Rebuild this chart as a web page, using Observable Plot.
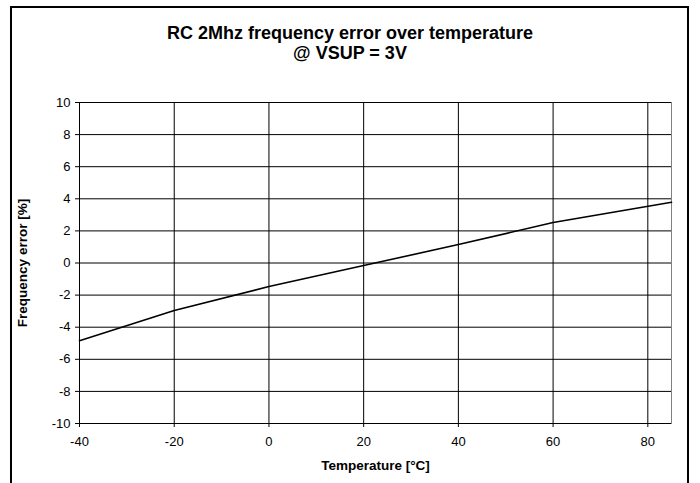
<!DOCTYPE html>
<html>
<head>
<meta charset="utf-8">
<script src="https://cdn.jsdelivr.net/npm/d3@7"></script>
<script src="https://cdn.jsdelivr.net/npm/@observablehq/plot@0.6"></script>
<style>
  html, body { margin: 0; padding: 0; background: #fff; }
  #wrap { position: relative; width: 700px; height: 483px; overflow: hidden; font-family: "Liberation Sans", Arial, sans-serif; }
  #frame { position: absolute; left: 10px; top: 6px; width: 679px; height: 500px; border: 2px solid #000; box-sizing: border-box; pointer-events: none; }
  #title { height: 70px; box-sizing: border-box; padding-top: 23px; text-align: center; font-weight: bold; font-size: 18px; line-height: 20px; color: #000; }
</style>
</head>
<body>
<div id="wrap">
  <div id="title">RC 2Mhz frequency error over temperature<br>@ VSUP = 3V</div>
  <div id="chart"></div>
  <div id="frame"></div>
</div>
<script>
const temperature = [-40, -20, 0, 20, 40, 60, 85];
const freqError = [-4.85, -2.96, -1.47, -0.16, 1.15, 2.52, 3.78];
const xTicks = [-40, -20, 0, 20, 40, 60, 80];
const yTicks = [-10, -8, -6, -4, -2, 0, 2, 4, 6, 8, 10];
const xLabel = "Temperature [°C]";
const yLabel = "Frequency error [%]";

const data = temperature.map((t, i) => ({t, e: freqError[i]}));

const chart = Plot.plot({
  width: 700,
  height: 413,
  marginLeft: 79,
  marginRight: 29,
  marginTop: 32,
  marginBottom: 60,
  style: {fontFamily: "Liberation Sans, Arial, sans-serif", fontSize: "13px", color: "#000", background: "transparent"},
  x: {domain: [-40, 85]},
  y: {domain: [-10, 10]},
  marks: [
    Plot.frame({stroke: "#808080"}),
    Plot.ruleX(xTicks, {stroke: "#000", strokeWidth: 1}),
    Plot.ruleY(yTicks, {stroke: "#000", strokeWidth: 1}),
    Plot.axisX({ticks: xTicks, tickSize: 4, tickPadding: 9, tickFormat: d => String(d), label: null, fontSize: 13}),
    Plot.axisX({ticks: [], tickSize: 0, label: xLabel, labelAnchor: "center", labelArrow: "none", labelOffset: 46, fontSize: 13.5}),
    Plot.axisY({ticks: yTicks, tickSize: 4, tickPadding: 5, tickFormat: d => String(d), label: null, fontSize: 13}),
    Plot.axisY({ticks: [], tickSize: 0, label: yLabel, labelAnchor: "center", labelArrow: "none", labelOffset: 62, fontSize: 13.5}),
    Plot.line(data, {x: "t", y: "e", stroke: "#000", strokeWidth: 1.6})
  ]
});
d3.select(chart).selectAll("[aria-label='x-axis label'] text, [aria-label='y-axis label'] text").style("font-weight", "bold");
document.getElementById("chart").appendChild(chart);
</script>
</body>
</html>
